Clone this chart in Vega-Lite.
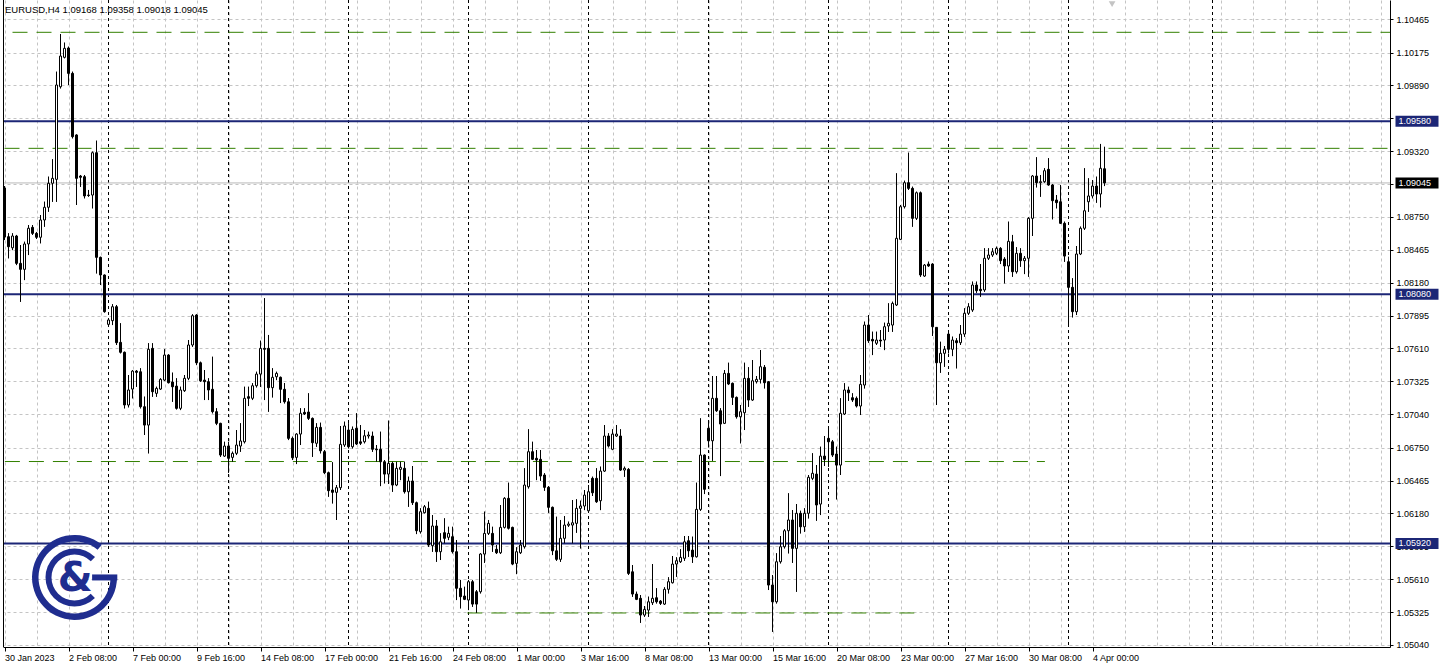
{
"$schema": "https://vega.github.io/schema/vega-lite/v6.json",
"width": 1387, "height": 647,
"autosize": {"type": "none"},
"padding": {"left": 3, "top": 0, "right": 49, "bottom": 22},
"background": "white",
"config": {"view": {"stroke": null},
 "axis": {"labelFont": "Liberation Sans", "labelFontSize": 9, "labelColor": "black", "labelOverlap": false, "labelBound": false, "labelFlush": false}},
"datasets": {
"candles": [
{"i":4,"o":1.09001,"h":1.09018,"l":1.08550,"c":1.08576},
{"i":5,"o":1.08579,"h":1.08608,"l":1.08392,"c":1.08492},
{"i":6,"o":1.08483,"h":1.08608,"l":1.08463,"c":1.08585},
{"i":7,"o":1.08585,"h":1.08594,"l":1.08333,"c":1.08348},
{"i":8,"o":1.08348,"h":1.08507,"l":1.08015,"c":1.08296},
{"i":9,"o":1.08296,"h":1.08535,"l":1.08203,"c":1.08516},
{"i":10,"o":1.08516,"h":1.08680,"l":1.08420,"c":1.08652},
{"i":11,"o":1.08660,"h":1.08680,"l":1.08594,"c":1.08608},
{"i":12,"o":1.08608,"h":1.08620,"l":1.08559,"c":1.08574},
{"i":13,"o":1.08574,"h":1.08767,"l":1.08522,"c":1.08724},
{"i":14,"o":1.08724,"h":1.08882,"l":1.08666,"c":1.08834},
{"i":15,"o":1.08834,"h":1.09099,"l":1.08796,"c":1.09042},
{"i":16,"o":1.09042,"h":1.09250,"l":1.08882,"c":1.09085},
{"i":17,"o":1.09076,"h":1.10009,"l":1.08882,"c":1.09894},
{"i":18,"o":1.09879,"h":1.10336,"l":1.09865,"c":1.10145},
{"i":19,"o":1.10134,"h":1.10261,"l":1.10126,"c":1.10212},
{"i":20,"o":1.10215,"h":1.10226,"l":1.09894,"c":1.09995},
{"i":21,"o":1.09995,"h":1.10009,"l":1.09432,"c":1.09446},
{"i":22,"o":1.09461,"h":1.09465,"l":1.08854,"c":1.09085},
{"i":23,"o":1.09105,"h":1.09114,"l":1.09012,"c":1.09094},
{"i":24,"o":1.09099,"h":1.09114,"l":1.08912,"c":1.08932},
{"i":25,"o":1.08940,"h":1.08984,"l":1.08926,"c":1.08936},
{"i":26,"o":1.08940,"h":1.09316,"l":1.08825,"c":1.09307},
{"i":27,"o":1.09307,"h":1.09411,"l":1.08261,"c":1.08400},
{"i":28,"o":1.08400,"h":1.08405,"l":1.08160,"c":1.08247},
{"i":29,"o":1.08247,"h":1.08250,"l":1.07922,"c":1.07929},
{"i":30,"o":1.07819,"h":1.07874,"l":1.07805,"c":1.07857},
{"i":31,"o":1.07851,"h":1.07993,"l":1.07813,"c":1.07972},
{"i":32,"o":1.07972,"h":1.07987,"l":1.07640,"c":1.07660},
{"i":33,"o":1.07663,"h":1.07828,"l":1.07568,"c":1.07577},
{"i":34,"o":1.07577,"h":1.07582,"l":1.07091,"c":1.07120},
{"i":35,"o":1.07120,"h":1.07380,"l":1.07100,"c":1.07250},
{"i":36,"o":1.07258,"h":1.07423,"l":1.07178,"c":1.07414},
{"i":37,"o":1.07414,"h":1.07423,"l":1.07278,"c":1.07403},
{"i":38,"o":1.07408,"h":1.07438,"l":1.07091,"c":1.07105},
{"i":39,"o":1.07105,"h":1.07192,"l":1.06860,"c":1.06946},
{"i":40,"o":1.06946,"h":1.07655,"l":1.06701,"c":1.07603},
{"i":41,"o":1.07611,"h":1.07655,"l":1.07192,"c":1.07235},
{"i":42,"o":1.07221,"h":1.07278,"l":1.07192,"c":1.07264},
{"i":43,"o":1.07258,"h":1.07351,"l":1.07250,"c":1.07342},
{"i":44,"o":1.07336,"h":1.07603,"l":1.07328,"c":1.07553},
{"i":45,"o":1.07553,"h":1.07559,"l":1.07308,"c":1.07313},
{"i":46,"o":1.07319,"h":1.07400,"l":1.07148,"c":1.07278},
{"i":47,"o":1.07284,"h":1.07351,"l":1.07082,"c":1.07091},
{"i":48,"o":1.07091,"h":1.07278,"l":1.07076,"c":1.07250},
{"i":49,"o":1.07244,"h":1.07380,"l":1.07235,"c":1.07351},
{"i":50,"o":1.07351,"h":1.07683,"l":1.07336,"c":1.07640},
{"i":51,"o":1.07640,"h":1.07906,"l":1.07625,"c":1.07894},
{"i":52,"o":1.07900,"h":1.07906,"l":1.07466,"c":1.07486},
{"i":53,"o":1.07486,"h":1.07495,"l":1.07322,"c":1.07330},
{"i":54,"o":1.07336,"h":1.07423,"l":1.07163,"c":1.07322},
{"i":55,"o":1.07322,"h":1.07351,"l":1.07163,"c":1.07250},
{"i":56,"o":1.07256,"h":1.07538,"l":1.07048,"c":1.07062},
{"i":57,"o":1.07062,"h":1.07091,"l":1.06946,"c":1.06961},
{"i":58,"o":1.06961,"h":1.06965,"l":1.06671,"c":1.06686},
{"i":59,"o":1.06677,"h":1.06801,"l":1.06671,"c":1.06764},
{"i":60,"o":1.06764,"h":1.06801,"l":1.06533,"c":1.06658},
{"i":61,"o":1.06666,"h":1.06715,"l":1.06628,"c":1.06701},
{"i":62,"o":1.06701,"h":1.06903,"l":1.06686,"c":1.06773},
{"i":63,"o":1.06764,"h":1.06961,"l":1.06715,"c":1.06808},
{"i":64,"o":1.06801,"h":1.07278,"l":1.06788,"c":1.07178},
{"i":65,"o":1.07192,"h":1.07278,"l":1.07111,"c":1.07178},
{"i":66,"o":1.07178,"h":1.07308,"l":1.07163,"c":1.07287},
{"i":67,"o":1.07287,"h":1.07408,"l":1.07273,"c":1.07388},
{"i":68,"o":1.07388,"h":1.07677,"l":1.07278,"c":1.07611},
{"i":69,"o":1.07611,"h":1.08045,"l":1.07163,"c":1.07603},
{"i":70,"o":1.07611,"h":1.07727,"l":1.07062,"c":1.07270},
{"i":71,"o":1.07270,"h":1.07438,"l":1.07186,"c":1.07360},
{"i":72,"o":1.07365,"h":1.07408,"l":1.07336,"c":1.07394},
{"i":73,"o":1.07360,"h":1.07365,"l":1.07137,"c":1.07256},
{"i":74,"o":1.07256,"h":1.07310,"l":1.07134,"c":1.07148},
{"i":75,"o":1.07148,"h":1.07180,"l":1.06816,"c":1.06831},
{"i":76,"o":1.06831,"h":1.06845,"l":1.06643,"c":1.06663},
{"i":77,"o":1.06666,"h":1.06874,"l":1.06608,"c":1.06868},
{"i":78,"o":1.06868,"h":1.07091,"l":1.06773,"c":1.07048},
{"i":79,"o":1.07056,"h":1.07091,"l":1.07033,"c":1.07042},
{"i":80,"o":1.07059,"h":1.07221,"l":1.06990,"c":1.07004},
{"i":81,"o":1.07004,"h":1.07010,"l":1.06671,"c":1.06793},
{"i":82,"o":1.06788,"h":1.06961,"l":1.06758,"c":1.06926},
{"i":83,"o":1.06926,"h":1.06966,"l":1.06701,"c":1.06723},
{"i":84,"o":1.06715,"h":1.06729,"l":1.06521,"c":1.06533},
{"i":85,"o":1.06533,"h":1.06541,"l":1.06325,"c":1.06377},
{"i":86,"o":1.06383,"h":1.06623,"l":1.06267,"c":1.06363},
{"i":87,"o":1.06363,"h":1.06426,"l":1.06123,"c":1.06403},
{"i":88,"o":1.06403,"h":1.06938,"l":1.06383,"c":1.06779},
{"i":89,"o":1.06773,"h":1.06975,"l":1.06758,"c":1.06938},
{"i":90,"o":1.06903,"h":1.06961,"l":1.06744,"c":1.06758},
{"i":91,"o":1.06758,"h":1.06932,"l":1.06744,"c":1.06909},
{"i":92,"o":1.06918,"h":1.07048,"l":1.06773,"c":1.06782},
{"i":93,"o":1.06801,"h":1.06946,"l":1.06773,"c":1.06788},
{"i":94,"o":1.06801,"h":1.06903,"l":1.06788,"c":1.06853},
{"i":95,"o":1.06851,"h":1.06888,"l":1.06831,"c":1.06860},
{"i":96,"o":1.06851,"h":1.06888,"l":1.06715,"c":1.06736},
{"i":97,"o":1.06738,"h":1.06773,"l":1.06628,"c":1.06732},
{"i":98,"o":1.06736,"h":1.06888,"l":1.06417,"c":1.06628},
{"i":99,"o":1.06628,"h":1.06643,"l":1.06441,"c":1.06521},
{"i":100,"o":1.06521,"h":1.06984,"l":1.06435,"c":1.06614},
{"i":101,"o":1.06614,"h":1.06628,"l":1.06368,"c":1.06426},
{"i":102,"o":1.06426,"h":1.06628,"l":1.06417,"c":1.06571},
{"i":103,"o":1.06562,"h":1.06628,"l":1.06469,"c":1.06580},
{"i":104,"o":1.06571,"h":1.06628,"l":1.06354,"c":1.06368},
{"i":105,"o":1.06368,"h":1.06498,"l":1.06238,"c":1.06461},
{"i":106,"o":1.06461,"h":1.06591,"l":1.06253,"c":1.06273},
{"i":107,"o":1.06273,"h":1.06281,"l":1.06001,"c":1.06030},
{"i":108,"o":1.06021,"h":1.06224,"l":1.06007,"c":1.06195},
{"i":109,"o":1.06186,"h":1.06253,"l":1.06181,"c":1.06238},
{"i":110,"o":1.06224,"h":1.06281,"l":1.05891,"c":1.05906},
{"i":111,"o":1.05900,"h":1.06166,"l":1.05848,"c":1.06071},
{"i":112,"o":1.06071,"h":1.06123,"l":1.05761,"c":1.05848},
{"i":113,"o":1.05848,"h":1.06007,"l":1.05776,"c":1.05934},
{"i":114,"o":1.06013,"h":1.06137,"l":1.05921,"c":1.05964},
{"i":115,"o":1.05973,"h":1.06064,"l":1.05949,"c":1.06007},
{"i":116,"o":1.05978,"h":1.06064,"l":1.05834,"c":1.05848},
{"i":117,"o":1.05848,"h":1.05949,"l":1.05429,"c":1.05531},
{"i":118,"o":1.05531,"h":1.05602,"l":1.05357,"c":1.05458},
{"i":119,"o":1.05464,"h":1.05544,"l":1.05429,"c":1.05435},
{"i":120,"o":1.05429,"h":1.05602,"l":1.05342,"c":1.05588},
{"i":121,"o":1.05588,"h":1.05602,"l":1.05371,"c":1.05394},
{"i":122,"o":1.05501,"h":1.05516,"l":1.05319,"c":1.05394},
{"i":123,"o":1.05501,"h":1.05834,"l":1.05487,"c":1.05828},
{"i":124,"o":1.05828,"h":1.06195,"l":1.05752,"c":1.06007},
{"i":125,"o":1.06007,"h":1.06123,"l":1.05993,"c":1.06094},
{"i":126,"o":1.06007,"h":1.06064,"l":1.05848,"c":1.05906},
{"i":127,"o":1.05869,"h":1.05906,"l":1.05828,"c":1.05839},
{"i":128,"o":1.05839,"h":1.06253,"l":1.05828,"c":1.06059},
{"i":129,"o":1.06059,"h":1.06319,"l":1.06051,"c":1.06311},
{"i":130,"o":1.06311,"h":1.06446,"l":1.06042,"c":1.06051},
{"i":131,"o":1.06059,"h":1.06064,"l":1.05732,"c":1.05741},
{"i":132,"o":1.05747,"h":1.05886,"l":1.05654,"c":1.05848},
{"i":133,"o":1.05839,"h":1.05949,"l":1.05828,"c":1.05906},
{"i":134,"o":1.05891,"h":1.06571,"l":1.05877,"c":1.06426},
{"i":135,"o":1.06411,"h":1.06909,"l":1.06397,"c":1.06715},
{"i":136,"o":1.06715,"h":1.06801,"l":1.06643,"c":1.06649},
{"i":137,"o":1.06658,"h":1.06729,"l":1.06469,"c":1.06643},
{"i":138,"o":1.06649,"h":1.06729,"l":1.06463,"c":1.06504},
{"i":139,"o":1.06513,"h":1.06528,"l":1.06377,"c":1.06406},
{"i":140,"o":1.06406,"h":1.06417,"l":1.06186,"c":1.06233},
{"i":141,"o":1.06233,"h":1.06238,"l":1.05819,"c":1.05856},
{"i":142,"o":1.05856,"h":1.06151,"l":1.05770,"c":1.05782},
{"i":143,"o":1.05782,"h":1.06123,"l":1.05761,"c":1.05964},
{"i":144,"o":1.05964,"h":1.06157,"l":1.05921,"c":1.06079},
{"i":145,"o":1.06077,"h":1.06108,"l":1.06064,"c":1.06088},
{"i":146,"o":1.06079,"h":1.06296,"l":1.05921,"c":1.06099},
{"i":147,"o":1.06094,"h":1.06302,"l":1.06013,"c":1.06224},
{"i":148,"o":1.06224,"h":1.06290,"l":1.05877,"c":1.06244},
{"i":149,"o":1.06244,"h":1.06383,"l":1.06209,"c":1.06339},
{"i":150,"o":1.06203,"h":1.06426,"l":1.06195,"c":1.06368},
{"i":151,"o":1.06484,"h":1.06498,"l":1.06331,"c":1.06359},
{"i":152,"o":1.06484,"h":1.06571,"l":1.06273,"c":1.06281},
{"i":153,"o":1.06290,"h":1.06585,"l":1.06209,"c":1.06547},
{"i":154,"o":1.06547,"h":1.06946,"l":1.06541,"c":1.06851},
{"i":155,"o":1.06851,"h":1.06874,"l":1.06753,"c":1.06764},
{"i":156,"o":1.06736,"h":1.06909,"l":1.06729,"c":1.06868},
{"i":157,"o":1.06851,"h":1.06946,"l":1.06845,"c":1.06868},
{"i":158,"o":1.06851,"h":1.06909,"l":1.06550,"c":1.06556},
{"i":159,"o":1.06556,"h":1.06585,"l":1.06498,"c":1.06571},
{"i":160,"o":1.06562,"h":1.06571,"l":1.05646,"c":1.05660},
{"i":161,"o":1.05674,"h":1.05732,"l":1.05458,"c":1.05481},
{"i":162,"o":1.05481,"h":1.05501,"l":1.05429,"c":1.05435},
{"i":163,"o":1.05444,"h":1.05472,"l":1.05232,"c":1.05299},
{"i":164,"o":1.05299,"h":1.05377,"l":1.05284,"c":1.05348},
{"i":165,"o":1.05342,"h":1.05458,"l":1.05284,"c":1.05414},
{"i":166,"o":1.05406,"h":1.05741,"l":1.05386,"c":1.05444},
{"i":167,"o":1.05449,"h":1.05531,"l":1.05400,"c":1.05414},
{"i":168,"o":1.05420,"h":1.05429,"l":1.05386,"c":1.05400},
{"i":169,"o":1.05394,"h":1.05539,"l":1.05386,"c":1.05522},
{"i":170,"o":1.05522,"h":1.05626,"l":1.05487,"c":1.05588},
{"i":171,"o":1.05579,"h":1.05810,"l":1.05574,"c":1.05741},
{"i":172,"o":1.05741,"h":1.05799,"l":1.05631,"c":1.05770},
{"i":173,"o":1.05761,"h":1.05869,"l":1.05752,"c":1.05799},
{"i":174,"o":1.05791,"h":1.05984,"l":1.05770,"c":1.05934},
{"i":175,"o":1.05943,"h":1.05984,"l":1.05804,"c":1.05856},
{"i":176,"o":1.05862,"h":1.05978,"l":1.05752,"c":1.05804},
{"i":177,"o":1.05804,"h":1.06446,"l":1.05799,"c":1.06215},
{"i":178,"o":1.06215,"h":1.07004,"l":1.06203,"c":1.06686},
{"i":179,"o":1.06686,"h":1.06690,"l":1.06348,"c":1.06389},
{"i":180,"o":1.06918,"h":1.06990,"l":1.06753,"c":1.06810},
{"i":181,"o":1.06810,"h":1.07371,"l":1.06637,"c":1.07178},
{"i":182,"o":1.07178,"h":1.07371,"l":1.07062,"c":1.07070},
{"i":183,"o":1.07070,"h":1.07091,"l":1.06504,"c":1.06955},
{"i":184,"o":1.06961,"h":1.07423,"l":1.06955,"c":1.07394},
{"i":185,"o":1.07394,"h":1.07486,"l":1.07293,"c":1.07302},
{"i":186,"o":1.07308,"h":1.07313,"l":1.07120,"c":1.07186},
{"i":187,"o":1.07186,"h":1.07192,"l":1.07004,"c":1.07018},
{"i":188,"o":1.07018,"h":1.07120,"l":1.06788,"c":1.07062},
{"i":189,"o":1.07053,"h":1.07486,"l":1.06903,"c":1.07351},
{"i":190,"o":1.07351,"h":1.07447,"l":1.07105,"c":1.07163},
{"i":191,"o":1.07163,"h":1.07510,"l":1.07157,"c":1.07330},
{"i":192,"o":1.07322,"h":1.07371,"l":1.07308,"c":1.07342},
{"i":193,"o":1.07342,"h":1.07596,"l":1.07308,"c":1.07452},
{"i":194,"o":1.07447,"h":1.07466,"l":1.07264,"c":1.07313},
{"i":195,"o":1.07322,"h":1.07325,"l":1.05516,"c":1.05559},
{"i":196,"o":1.05559,"h":1.05646,"l":1.05154,"c":1.05414},
{"i":197,"o":1.05414,"h":1.05834,"l":1.05400,"c":1.05761},
{"i":198,"o":1.05761,"h":1.05984,"l":1.05747,"c":1.05891},
{"i":199,"o":1.05891,"h":1.06042,"l":1.05877,"c":1.06030},
{"i":200,"o":1.06030,"h":1.06354,"l":1.05834,"c":1.06123},
{"i":201,"o":1.06123,"h":1.06209,"l":1.05752,"c":1.05877},
{"i":202,"o":1.05877,"h":1.06261,"l":1.05501,"c":1.06181},
{"i":203,"o":1.06181,"h":1.06203,"l":1.06007,"c":1.06064},
{"i":204,"o":1.06064,"h":1.06224,"l":1.06021,"c":1.06181},
{"i":205,"o":1.06181,"h":1.06513,"l":1.06137,"c":1.06493},
{"i":206,"o":1.06484,"h":1.06701,"l":1.06469,"c":1.06528},
{"i":207,"o":1.06521,"h":1.06599,"l":1.06117,"c":1.06253},
{"i":208,"o":1.06261,"h":1.06758,"l":1.06166,"c":1.06677},
{"i":209,"o":1.06677,"h":1.06851,"l":1.06591,"c":1.06649},
{"i":210,"o":1.06831,"h":1.06918,"l":1.06585,"c":1.06801},
{"i":211,"o":1.06801,"h":1.06816,"l":1.06671,"c":1.06686},
{"i":212,"o":1.06695,"h":1.06758,"l":1.06302,"c":1.06599},
{"i":213,"o":1.06599,"h":1.07178,"l":1.06513,"c":1.07048},
{"i":214,"o":1.07042,"h":1.07308,"l":1.07033,"c":1.07250},
{"i":215,"o":1.07250,"h":1.07278,"l":1.07157,"c":1.07226},
{"i":216,"o":1.07183,"h":1.07221,"l":1.07148,"c":1.07163},
{"i":217,"o":1.07178,"h":1.07192,"l":1.07100,"c":1.07111},
{"i":218,"o":1.07111,"h":1.07380,"l":1.07033,"c":1.07299},
{"i":219,"o":1.07293,"h":1.07842,"l":1.07264,"c":1.07813},
{"i":220,"o":1.07813,"h":1.07900,"l":1.07660,"c":1.07677},
{"i":221,"o":1.07689,"h":1.07755,"l":1.07553,"c":1.07675},
{"i":222,"o":1.07655,"h":1.07755,"l":1.07640,"c":1.07683},
{"i":223,"o":1.07683,"h":1.07770,"l":1.07625,"c":1.07675},
{"i":224,"o":1.07683,"h":1.07833,"l":1.07596,"c":1.07799},
{"i":225,"o":1.07805,"h":1.08001,"l":1.07755,"c":1.07828},
{"i":226,"o":1.07813,"h":1.08015,"l":1.07755,"c":1.08001},
{"i":227,"o":1.07987,"h":1.09128,"l":1.07978,"c":1.08565},
{"i":228,"o":1.08556,"h":1.08854,"l":1.08550,"c":1.08839},
{"i":229,"o":1.08839,"h":1.09064,"l":1.08825,"c":1.09047},
{"i":230,"o":1.09047,"h":1.09307,"l":1.08984,"c":1.08998},
{"i":231,"o":1.08998,"h":1.09012,"l":1.08666,"c":1.08738},
{"i":232,"o":1.08738,"h":1.08969,"l":1.08724,"c":1.08960},
{"i":233,"o":1.08960,"h":1.08969,"l":1.08232,"c":1.08247},
{"i":234,"o":1.08238,"h":1.08342,"l":1.08232,"c":1.08333},
{"i":235,"o":1.08342,"h":1.08362,"l":1.08319,"c":1.08325},
{"i":236,"o":1.08342,"h":1.08348,"l":1.07718,"c":1.07799},
{"i":237,"o":1.07793,"h":1.07795,"l":1.07120,"c":1.07486},
{"i":238,"o":1.07486,"h":1.07668,"l":1.07400,"c":1.07568},
{"i":239,"o":1.07568,"h":1.07631,"l":1.07452,"c":1.07603},
{"i":240,"o":1.07735,"h":1.07747,"l":1.07568,"c":1.07603},
{"i":241,"o":1.07603,"h":1.07712,"l":1.07544,"c":1.07683},
{"i":242,"o":1.07677,"h":1.07698,"l":1.07438,"c":1.07660},
{"i":243,"o":1.07660,"h":1.07813,"l":1.07640,"c":1.07735},
{"i":244,"o":1.07735,"h":1.07958,"l":1.07712,"c":1.07915},
{"i":245,"o":1.07915,"h":1.08001,"l":1.07900,"c":1.07972},
{"i":246,"o":1.07943,"h":1.08189,"l":1.07929,"c":1.08160},
{"i":247,"o":1.08160,"h":1.08189,"l":1.08093,"c":1.08111},
{"i":248,"o":1.08123,"h":1.08342,"l":1.08059,"c":1.08111},
{"i":249,"o":1.08117,"h":1.08478,"l":1.08102,"c":1.08392},
{"i":250,"o":1.08392,"h":1.08478,"l":1.08377,"c":1.08420},
{"i":251,"o":1.08420,"h":1.08478,"l":1.08405,"c":1.08449},
{"i":252,"o":1.08435,"h":1.08492,"l":1.08420,"c":1.08478},
{"i":253,"o":1.08478,"h":1.08487,"l":1.08342,"c":1.08371},
{"i":254,"o":1.08385,"h":1.08400,"l":1.08175,"c":1.08325},
{"i":255,"o":1.08325,"h":1.08709,"l":1.08275,"c":1.08539},
{"i":256,"o":1.08535,"h":1.08594,"l":1.08232,"c":1.08275},
{"i":257,"o":1.08275,"h":1.08487,"l":1.08261,"c":1.08435},
{"i":258,"o":1.08435,"h":1.08478,"l":1.08319,"c":1.08371},
{"i":259,"o":1.08371,"h":1.08411,"l":1.08255,"c":1.08392},
{"i":260,"o":1.08392,"h":1.08747,"l":1.08232,"c":1.08738},
{"i":261,"o":1.08738,"h":1.09114,"l":1.08585,"c":1.09105},
{"i":262,"o":1.09105,"h":1.09267,"l":1.09007,"c":1.09047},
{"i":263,"o":1.09047,"h":1.09114,"l":1.08926,"c":1.09056},
{"i":264,"o":1.09056,"h":1.09172,"l":1.09047,"c":1.09151},
{"i":265,"o":1.09163,"h":1.09259,"l":1.09023,"c":1.09027},
{"i":266,"o":1.09027,"h":1.09036,"l":1.08730,"c":1.08891},
{"i":267,"o":1.08897,"h":1.08940,"l":1.08825,"c":1.08874},
{"i":268,"o":1.08882,"h":1.09027,"l":1.08689,"c":1.08695},
{"i":269,"o":1.08695,"h":1.08709,"l":1.08362,"c":1.08411},
{"i":270,"o":1.08362,"h":1.08405,"l":1.07805,"c":1.08140},
{"i":271,"o":1.08140,"h":1.08218,"l":1.07880,"c":1.07929},
{"i":272,"o":1.07929,"h":1.08498,"l":1.07900,"c":1.08429},
{"i":273,"o":1.08429,"h":1.08666,"l":1.08420,"c":1.08652},
{"i":274,"o":1.08652,"h":1.09172,"l":1.08637,"c":1.08804},
{"i":275,"o":1.08882,"h":1.09085,"l":1.08796,"c":1.08932},
{"i":276,"o":1.08932,"h":1.09070,"l":1.08912,"c":1.09018},
{"i":277,"o":1.09018,"h":1.09099,"l":1.08874,"c":1.08949},
{"i":278,"o":1.08949,"h":1.09383,"l":1.08834,"c":1.09172},
{"i":279,"o":1.09168,"h":1.09358,"l":1.09018,"c":1.09045}
],
"levels": [{"p":1.0958},{"p":1.0808},{"p":1.0592}],
"bid": [{"p":1.09045}],
"trend": [
{"p":1.10351,"x1":6.0,"x2":350.375},
{"p":1.09345,"x1":4.0,"x2":350.375},
{"p":1.0663,"x1":4.1,"x2":264.1},
{"p":1.05317,"x1":119.7,"x2":233.7}
],
"seps": [{"i":30},{"i":60},{"i":90},{"i":120},{"i":150},{"i":180},{"i":210},{"i":240},{"i":270},{"i":306}]
},
"layer": [
{"data":{"name":"candles"},
 "mark":{"type":"rule","color":"black","strokeWidth":1},
 "encoding":{
  "x":{"field":"i","type":"quantitative","scale":{"domain":[3.625,350.375],"nice":false,"zero":false,"padding":0},
   "axis":{"title":null,"orient":"bottom","tickCount":500,"values":[4,12,20,28,36,44,52,60,68,76,84,92,100,108,116,124,132,140,148,156,164,172,180,188,196,204,212,220,228,236,244,252,260,268,276,284,292,300,308,316,324,332,340,348],
    "domainColor":"black","domainWidth":1,"grid":true,"gridColor":"#c4c4c4","gridDash":[3,3],"gridWidth":1,
    "tickSize":4,"tickWidth":1,"tickColor":{"condition":{"test":"(datum.value - 4) % 16 === 0 && datum.value <= 276","value":"black"},"value":"transparent"},
    "labelAlign":"left","labelBaseline":"top","labelPadding":2,"labelFlush":false,"labelOverlap":false,"labelBound":false,
    "labelExpr":"(datum.value - 4) % 16 === 0 && datum.value <= 276 ? ['30 Jan 2023','2 Feb 08:00','7 Feb 00:00','9 Feb 16:00','14 Feb 08:00','17 Feb 00:00','21 Feb 16:00','24 Feb 08:00','1 Mar 00:00','3 Mar 16:00','8 Mar 08:00','13 Mar 00:00','15 Mar 16:00','20 Mar 08:00','23 Mar 00:00','27 Mar 16:00','30 Mar 08:00','4 Apr 00:00'][(datum.value - 4) / 16] : ''"}},
  "y":{"field":"l","type":"quantitative","scale":{"domain":[1.05022,1.10631],"nice":false,"zero":false,"padding":0},
   "axis":{"title":null,"orient":"right","tickCount":500,"values":[1.0504,1.05325,1.0561,1.05895,1.0618,1.06465,1.0675,1.0704,1.07325,1.0761,1.07895,1.0818,1.08465,1.0875,1.09035,1.0932,1.09605,1.0989,1.10175,1.10465],
    "format":".5f","grid":true,"gridColor":"#c4c4c4","gridDash":[3,3],"gridWidth":1,"tickSize":3,"tickColor":"black","domainColor":"black","domainWidth":1,
    "labelPadding":3,"labelOverlap":false,"labelFlush":false,"labelBound":false,"labelBaseline":"middle"}},
  "y2":{"field":"h"}
 }},
{"data":{"name":"seps"},
 "mark":{"type":"rule","color":"black","strokeDash":[3,3],"strokeWidth":1},
 "encoding":{"x":{"field":"i","type":"quantitative","scale":{"domain":[3.625,350.375],"nice":false,"zero":false,"padding":0}}}},
{"data":{"name":"trend"},
 "mark":{"type":"rule","color":"#338000","strokeDash":[15,9],"strokeWidth":1},
 "encoding":{
  "x":{"field":"x1","type":"quantitative","scale":{"domain":[3.625,350.375],"nice":false,"zero":false,"padding":0}},
  "x2":{"field":"x2"},
  "y":{"field":"p","type":"quantitative","scale":{"domain":[1.05022,1.10631],"nice":false,"zero":false,"padding":0}}}},
{"data":{"name":"levels"},
 "mark":{"type":"rule","color":"#1c2676","strokeWidth":2},
 "encoding":{"y":{"field":"p","type":"quantitative","scale":{"domain":[1.05022,1.10631],"nice":false,"zero":false,"padding":0}}}},
{"data":{"name":"bid"},
 "mark":{"type":"rule","color":"#b8b8b8","strokeWidth":1},
 "encoding":{"y":{"field":"p","type":"quantitative","scale":{"domain":[1.05022,1.10631],"nice":false,"zero":false,"padding":0}}}},
{"data":{"name":"candles"},
 "mark":{"type":"rule","color":"black","strokeWidth":1},
 "encoding":{
  "x":{"field":"i","type":"quantitative","scale":{"domain":[3.625,350.375],"nice":false,"zero":false,"padding":0}},
  "y":{"field":"l","type":"quantitative","scale":{"domain":[1.05022,1.10631],"nice":false,"zero":false,"padding":0}},
  "y2":{"field":"h"}}},
{"data":{"name":"candles"},
 "mark":{"type":"bar","width":2,"stroke":"black","strokeWidth":1},
 "encoding":{
  "x":{"field":"i","type":"quantitative","scale":{"domain":[3.625,350.375],"nice":false,"zero":false,"padding":0}},
  "y":{"field":"o","type":"quantitative","scale":{"domain":[1.05022,1.10631],"nice":false,"zero":false,"padding":0}},
  "y2":{"field":"c"},
  "fill":{"condition":{"test":"datum.c > datum.o","value":"white"},"value":"black"}}},
{"data":{"name":"levels"},
 "mark":{"type":"rule","color":"#1c2676","strokeWidth":11,"strokeCap":"butt"},
 "encoding":{
  "x":{"datum":351.75,"type":"quantitative","scale":{"domain":[3.625,350.375],"nice":false,"zero":false,"padding":0}},
  "x2":{"datum":362.5},
  "y":{"field":"p","type":"quantitative","scale":{"domain":[1.05022,1.10631],"nice":false,"zero":false,"padding":0}}}},
{"data":{"name":"levels"},
 "mark":{"type":"text","color":"white","align":"left","baseline":"middle","font":"Liberation Sans","fontSize":9},
 "encoding":{
  "x":{"datum":352.5,"type":"quantitative","scale":{"domain":[3.625,350.375],"nice":false,"zero":false,"padding":0}},
  "y":{"field":"p","type":"quantitative","scale":{"domain":[1.05022,1.10631],"nice":false,"zero":false,"padding":0}},
  "text":{"field":"p","type":"quantitative","format":".5f"}}},
{"data":{"name":"bid"},
 "mark":{"type":"rule","color":"black","strokeWidth":11,"strokeCap":"butt"},
 "encoding":{
  "x":{"datum":351.75,"type":"quantitative","scale":{"domain":[3.625,350.375],"nice":false,"zero":false,"padding":0}},
  "x2":{"datum":362.5},
  "y":{"field":"p","type":"quantitative","scale":{"domain":[1.05022,1.10631],"nice":false,"zero":false,"padding":0}}}},
{"data":{"name":"bid"},
 "mark":{"type":"text","color":"white","align":"left","baseline":"middle","font":"Liberation Sans","fontSize":9},
 "encoding":{
  "x":{"datum":352.5,"type":"quantitative","scale":{"domain":[3.625,350.375],"nice":false,"zero":false,"padding":0}},
  "y":{"field":"p","type":"quantitative","scale":{"domain":[1.05022,1.10631],"nice":false,"zero":false,"padding":0}},
  "text":{"field":"p","type":"quantitative","format":".5f"}}},
{"data":{"values":[{}]},
 "mark":{"type":"rule","color":"black","strokeWidth":1},
 "encoding":{"x":{"datum":3.75,"type":"quantitative","scale":{"domain":[3.625,350.375],"nice":false,"zero":false,"padding":0}}}},
{"data":{"values":[{}]},
 "mark":{"type":"point","shape":"triangle-down","size":45,"filled":true,"color":"#c4c4c4","opacity":1},
 "encoding":{
  "x":{"datum":280.9,"type":"quantitative","scale":{"domain":[3.625,350.375],"nice":false,"zero":false,"padding":0}},
  "y":{"datum":1.10596,"type":"quantitative","scale":{"domain":[1.05022,1.10631],"nice":false,"zero":false,"padding":0}}}},
{"data":{"values":[{}]},
 "mark":{"type":"text","text":"EURUSD,H4  1.09168 1.09358 1.09018 1.09045","align":"left","baseline":"middle","font":"Liberation Sans","fontSize":9.5,"color":"black"},
 "encoding":{
  "x":{"datum":4.125,"type":"quantitative","scale":{"domain":[3.625,350.375],"nice":false,"zero":false,"padding":0}},
  "y":{"datum":1.10544,"type":"quantitative","scale":{"domain":[1.05022,1.10631],"nice":false,"zero":false,"padding":0}}}},
{"data":{"values":[{}]},
 "mark":{"type":"arc","radius":42.5,"radius2":36,"theta":1.5708,"theta2":6.98,"color":"#1f2d8f"},
 "encoding":{
  "x":{"datum":21.5,"type":"quantitative","scale":{"domain":[3.625,350.375],"nice":false,"zero":false,"padding":0}},
  "y":{"datum":1.05625,"type":"quantitative","scale":{"domain":[1.05022,1.10631],"nice":false,"zero":false,"padding":0}}}},
{"data":{"values":[{}]},
 "mark":{"type":"arc","radius":29,"radius2":23,"theta":2.36,"theta2":7.07,"color":"#1f2d8f"},
 "encoding":{
  "x":{"datum":21.5,"type":"quantitative","scale":{"domain":[3.625,350.375],"nice":false,"zero":false,"padding":0}},
  "y":{"datum":1.05625,"type":"quantitative","scale":{"domain":[1.05022,1.10631],"nice":false,"zero":false,"padding":0}}}},
{"data":{"values":[{}]},
 "mark":{"type":"rule","color":"#1f2d8f","strokeWidth":6,"strokeCap":"butt"},
 "encoding":{
  "x":{"datum":25.9,"type":"quantitative","scale":{"domain":[3.625,350.375],"nice":false,"zero":false,"padding":0}},
  "x2":{"datum":32.2},
  "y":{"datum":1.05625,"type":"quantitative","scale":{"domain":[1.05022,1.10631],"nice":false,"zero":false,"padding":0}}}},
{"data":{"values":[{}]},
 "mark":{"type":"text","text":"&","align":"center","baseline":"middle","font":"DejaVu Sans","fontWeight":"bold","fontSize":40,"color":"#1f2d8f"},
 "encoding":{
  "x":{"datum":21.65,"type":"quantitative","scale":{"domain":[3.625,350.375],"nice":false,"zero":false,"padding":0}},
  "y":{"datum":1.0561,"type":"quantitative","scale":{"domain":[1.05022,1.10631],"nice":false,"zero":false,"padding":0}}}}
]
}
